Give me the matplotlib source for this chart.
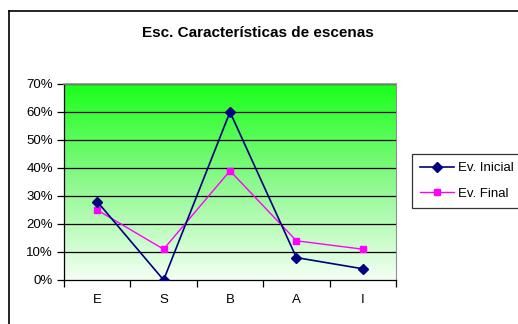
import numpy as np
import matplotlib as mpl
import matplotlib.pyplot as plt
from matplotlib.colors import LinearSegmentedColormap
from matplotlib.lines import Line2D

plt.rcParams['font.family'] = ['Liberation Sans', 'DejaVu Sans']

##data
categories = ['E', 'S', 'B', 'A', 'I']
ev_inicial = [28, 0, 60, 8, 4]
ev_final = [25, 11, 39, 14, 11]
yticks = [0, 10, 20, 30, 40, 50, 60, 70]

fig = plt.figure(figsize=(5.18, 3.24), dpi=100)
W, H = 518, 324
ax = fig.add_axes([64 / W, 1 - 280 / H, (396 - 64) / W, (280 - 84) / H])

##outer chart frame, only top and left visible
fig.add_artist(Line2D([9 / W, 9 / W], [0, 1 - 11 / H], color='black', lw=1.2))
fig.add_artist(Line2D([9 / W, 1], [1 - 11 / H, 1 - 11 / H], color='black', lw=1.2))

##green gradient background
cmap = LinearSegmentedColormap.from_list('g', ['#f4fff4', '#8cf98c', '#1aff1a'])
grad = np.linspace(0, 1, 256).reshape(-1, 1)
ax.imshow(grad, cmap=cmap, aspect='auto', origin='lower',
          extent=[0, 5, 0, 70], zorder=0)

x = np.arange(len(categories)) + 0.5
ax.plot(x, ev_inicial, color='#000080', lw=1.2, marker='D', ms=5,
        label='Ev. Inicial', zorder=4)
ax.plot(x, ev_final, color='#ff00ff', lw=1.0, marker='s', ms=5,
        label='Ev. Final', zorder=3)

ax.set_xlim(0, 5)
ax.set_ylim(0, 70)
ax.set_yticks(yticks)
ax.set_yticklabels([f'{v}%' for v in yticks])
for v in yticks[1:]:
    ax.axhline(v, color='black', lw=0.9, zorder=1)

ax.set_xticks(np.arange(6))
ax.set_xticklabels([])
ax.set_xticks(x, minor=True)
ax.set_xticklabels(categories, minor=True)
ax.tick_params(axis='x', which='minor', length=0, pad=10, labelsize=9.5)
ax.tick_params(axis='x', which='major', length=5, width=0.9)
ax.tick_params(axis='y', length=5, width=0.9, labelsize=9.5, pad=3)

for s in ['left', 'bottom']:
    ax.spines[s].set_linewidth(0.9)
ax.spines['top'].set_color('#909090')
ax.spines['right'].set_color('#909090')
ax.spines['top'].set_linewidth(1.2)
ax.spines['right'].set_linewidth(0.8)

fig.text(258 / W, 1 - 33 / H, 'Esc. Características de escenas',
         ha='center', va='center', fontsize=11, fontweight='bold')

leg = fig.legend(loc='upper left', bbox_to_anchor=(412 / W, 1 - 154 / H),
                 frameon=True, fancybox=False, fontsize=9.5,
                 handlelength=2.6, borderpad=0.6, labelspacing=1.0,
                 handletextpad=0.3, borderaxespad=0)
leg.get_frame().set_edgecolor('black')
leg.get_frame().set_linewidth(0.9)

fig.savefig('out.png', dpi=100)
